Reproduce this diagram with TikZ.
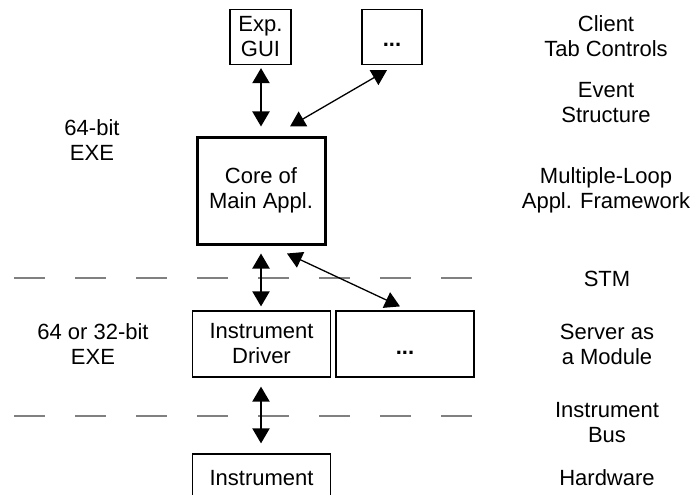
\documentclass[tikz,border=0pt]{standalone}
\usepackage{fontspec}
\setmainfont{Liberation Sans}
\usepackage{xcolor}
\usetikzlibrary{arrows.meta,positioning}
\definecolor{sepgray}{RGB}{128,128,128}
\newcommand{\moredots}{\raisebox{-10pt}[0pt][0pt]{\textbf{...}}}

\begin{document}
\begin{tikzpicture}[
    x=1pt, y=-1pt,
    every node/.style={font=\fontsize{22}{25}\selectfont, align=center, inner sep=0pt},
    box/.style={rectangle, draw, line width=1.2pt},
    core/.style={rectangle, draw, line width=3pt, minimum width=128pt, minimum height=107pt},
    arrow/.style={{Triangle[width=17pt,length=15pt]}-{Triangle[width=17pt,length=15pt]}, line width=2pt},
    diag/.style={{Triangle[width=17pt,length=15pt]}-{Triangle[width=17pt,length=15pt]}, line width=1.3pt},
    sep/.style={sepgray, line width=2pt, dash pattern=on 31pt off 30pt}
]
\useasboundingbox (0,0) rectangle (694,495);

% layer separators
\draw[sep] (14,278) -- (472,278);
\draw[sep] (14,416) -- (472,416);

% boxes
\node[box, minimum width=61pt, minimum height=55pt] (gui) at (260.5,37) {Exp.\\GUI};
\node[box, minimum width=60pt, minimum height=55pt] (topmore) at (392,37) {\moredots};
\node[core] (core) at (261,190.5) {Core of\\Main Appl.};
\node[box, minimum width=138pt, minimum height=66pt] (driver) at (261.5,344) {Instrument\\Driver};
\node[box, minimum width=138pt, minimum height=66pt] (srvmore) at (405,344) {\moredots};
\node[box, minimum width=138pt, minimum height=48pt] (instr) at (261.5,478) {Instrument};

% left labels
\node (exe64) at (92,140) {64-bit\\EXE};
\node (exe32) at (93,344) {64 or 32-bit\\EXE};

% right labels
\node (client) at (606,36) {Client\\Tab Controls};
\node (event) at (606,103) {Event\\Structure};
\node (mlaf) at (606,190) {Multiple-Loop\\Appl. Framework};
\node (stm) at (607,279) {STM};
\node (server) at (607,344) {Server as\\a Module};
\node (bus) at (607,423) {Instrument\\Bus};
\node (hw) at (607,478) {Hardware};

% connectors
\draw[arrow, shorten <=3pt, shorten >=9pt] (gui.south -| core.north) -- (core.north);
\draw[diag] ([xshift=-5pt,yshift=-5pt]topmore.south) -- ([xshift=29pt,yshift=9pt]core.north);
\draw[arrow, shorten <=8pt, shorten >=4pt] (core.south) -- (core.south |- driver.north);
\draw[diag] ([xshift=26pt,yshift=-8pt]core.south) -- ([xshift=-5pt,yshift=4pt]srvmore.north);
\draw[arrow, shorten <=9pt, shorten >=10pt] (core.south |- driver.south) -- (core.south |- instr.north);
\end{tikzpicture}
\end{document}
